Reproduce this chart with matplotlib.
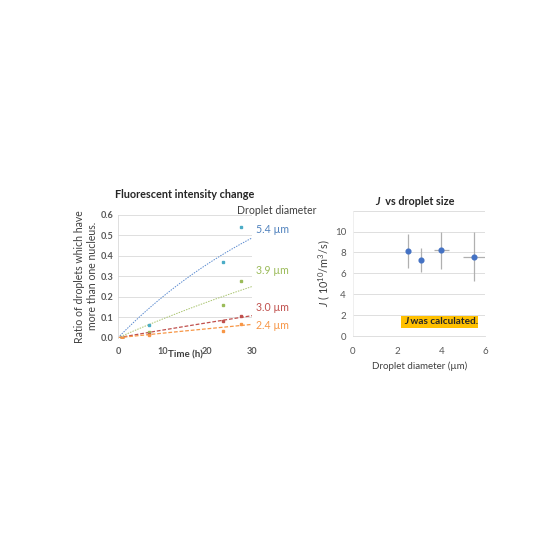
import numpy as np
import matplotlib
matplotlib.use("Agg")
import matplotlib.pyplot as plt

plt.rcParams['font.family'] = ['Lato', 'DejaVu Sans']
plt.rcParams['mathtext.fontset'] = 'custom'
plt.rcParams['mathtext.rm'] = 'Lato'
plt.rcParams['mathtext.it'] = 'Lato:italic'
plt.rcParams['mathtext.bf'] = 'Lato:bold'

# ---- data: left chart ----
time_h = [1, 7, 23.5, 27.5]
diam_labels = ["5.4 µm", "3.9 µm", "3.0 µm", "2.4 µm"]
ratio_54 = [0.0, 0.06, 0.37, 0.54]
ratio_39 = [0.0, 0.03, 0.16, 0.275]
ratio_30 = [0.0, 0.02, 0.08, 0.105]
ratio_24 = [0.0, 0.012, 0.035, 0.065]
fit_rate = [0.0223, 0.0096, 0.0038, 0.00224]   # trend: 1 - exp(-k t)
label_y = [0.527, 0.331, 0.15, 0.062]

# ---- data: right chart ----
diam_um = [2.47, 3.1, 4.0, 5.48]
J_val = [8.15, 7.25, 8.2, 7.6]
J_low = [6.55, 6.15, 6.45, 5.3]
J_high = [9.75, 8.4, 9.95, 9.95]
diam_err = [0.04, 0.05, 0.33, 0.5]

pt_colors = ["#4BACC6", "#9BBB59", "#C0504D", "#F79646"]
line_colors = ["#5B8BD0", "#A9C46E", "#C0504D", "#F79646"]
text_colors = ["#4F81BD", "#9BBB59", "#C0504D", "#F79646"]
line_styles = [(0, (1.5, 1.2)), (0, (1.5, 1.2)), (0, (3, 1.5)), (0, (3, 1.5))]
line_widths = [0.7, 0.7, 0.9, 0.9]

fig = plt.figure(figsize=(5.6, 5.6), dpi=100)

# ---------- left chart ----------
ax = fig.add_axes([118/560, 1-337.7/560, 134/560, 122.7/560])
series = [ratio_54, ratio_39, ratio_30, ratio_24]
tt = np.linspace(0, 30, 200)
for vals, k, pc, lc, ls, lw, lab, ly, tc in zip(series, fit_rate, pt_colors, line_colors,
                                                line_styles, line_widths, diam_labels, label_y, text_colors):
    ax.plot(tt, 1 - np.exp(-k * tt), color=lc, linestyle=ls, linewidth=lw, zorder=2)
    ax.plot(time_h, vals, linestyle='none', marker='s', markersize=1.5, color=pc, zorder=3)
    ax.text(31.0, ly, lab, color=tc, fontsize=7.6, va='center', ha='left', clip_on=False)
ax.text(35.6, 0.62, "Droplet diameter", color='#404040', fontsize=7.6, va='center', ha='center',
        clip_on=False)
ax.set_xlim(0, 30)
ax.set_ylim(0, 0.6)
ax.set_xticks([0, 10, 20, 30])
ax.set_yticks(np.arange(0, 0.61, 0.1))
ax.set_yticklabels([f"{v:.1f}" for v in np.arange(0, 0.61, 0.1)])
ax.tick_params(length=0, labelsize=6.6, colors='#595959')
ax.tick_params(axis='x', pad=7)
ax.tick_params(axis='y', pad=3)
for l in ax.get_xticklabels() + ax.get_yticklabels():
    l.set_fontweight('bold')
ax.grid(axis='y', color='#D9D9D9', linewidth=0.6)
ax.set_axisbelow(True)
for s in ['top', 'right', 'bottom']:
    ax.spines[s].set_visible(False)
ax.spines['left'].set_color('#D9D9D9')
ax.spines['left'].set_linewidth(0.6)
ax.set_title("Fluorescent intensity change", fontsize=7.8, fontweight='bold', color='#262626', pad=12)
ax.set_xlabel("Time (h)", fontsize=7.0, fontweight='bold', color='#404040', labelpad=-4)
ax.set_ylabel("Ratio of droplets which have\nmore than one nucleus.", fontsize=7.6, color='#404040',
              labelpad=2, linespacing=1.2)

# ---------- right chart ----------
ax2 = fig.add_axes([353/560, 1-336/560, 132.5/560, 125.3/560])
yerr = [np.array(J_val) - np.array(J_low), np.array(J_high) - np.array(J_val)]
ax2.errorbar(diam_um, J_val, yerr=yerr, xerr=diam_err, fmt='o', color='#4472C4', markersize=3.4,
             ecolor='#B0B0B0', elinewidth=0.9, capsize=0, zorder=3)
ax2.set_xlim(0, 6)
ax2.set_ylim(0, 12)
ax2.set_xticks([0, 2, 4, 6])
ax2.set_yticks([0, 2, 4, 6, 8, 10, 12])
ax2.set_yticklabels(['0', '2', '4', '6', '8', '10', ''])
ax2.tick_params(length=0, labelsize=7.0, colors='#595959')
ax2.tick_params(axis='x', pad=8)
ax2.tick_params(axis='y', pad=5)
ax2.grid(axis='y', color='#D9D9D9', linewidth=0.6)
ax2.set_axisbelow(True)
for s in ['top', 'right']:
    ax2.spines[s].set_visible(False)
ax2.spines['left'].set_color('#EDEDED')
ax2.spines['left'].set_linewidth(0.6)
ax2.spines['bottom'].set_color('#D9D9D9')
ax2.spines['bottom'].set_linewidth(0.6)
ax2.set_xlabel("Droplet diameter (µm)", fontsize=7.0, color='#404040', labelpad=4)
ax2.set_ylabel(r"$J$ ( 10$^{10}$/m$^{3}$/s)", fontsize=7.8, color='#404040', labelpad=2)
# title with italic J
ax2.text(0.2, 1.03, "J", transform=ax2.transAxes, fontsize=7.8, fontweight='bold',
         fontstyle='italic', ha='right', va='bottom', color='#262626')
ax2.text(0.2, 1.03, "  vs droplet size", transform=ax2.transAxes, fontsize=7.8, fontweight='bold',
         ha='left', va='bottom', color='#262626')
# annotation box
ax2.text(2.5, 1.37, "J", fontsize=7.2, fontweight='bold', fontstyle='italic', ha='right', va='center',
         color='#262626', zorder=5)
ax2.text(2.5, 1.37, " was calculated.", fontsize=7.2, fontweight='bold', ha='left', va='center',
         color='#262626', zorder=5)
ax2.add_patch(plt.Rectangle((2.17, 0.8), 3.48, 1.15, facecolor='#FFC000', edgecolor='none', zorder=4))

fig.savefig("out.png", dpi=100)
